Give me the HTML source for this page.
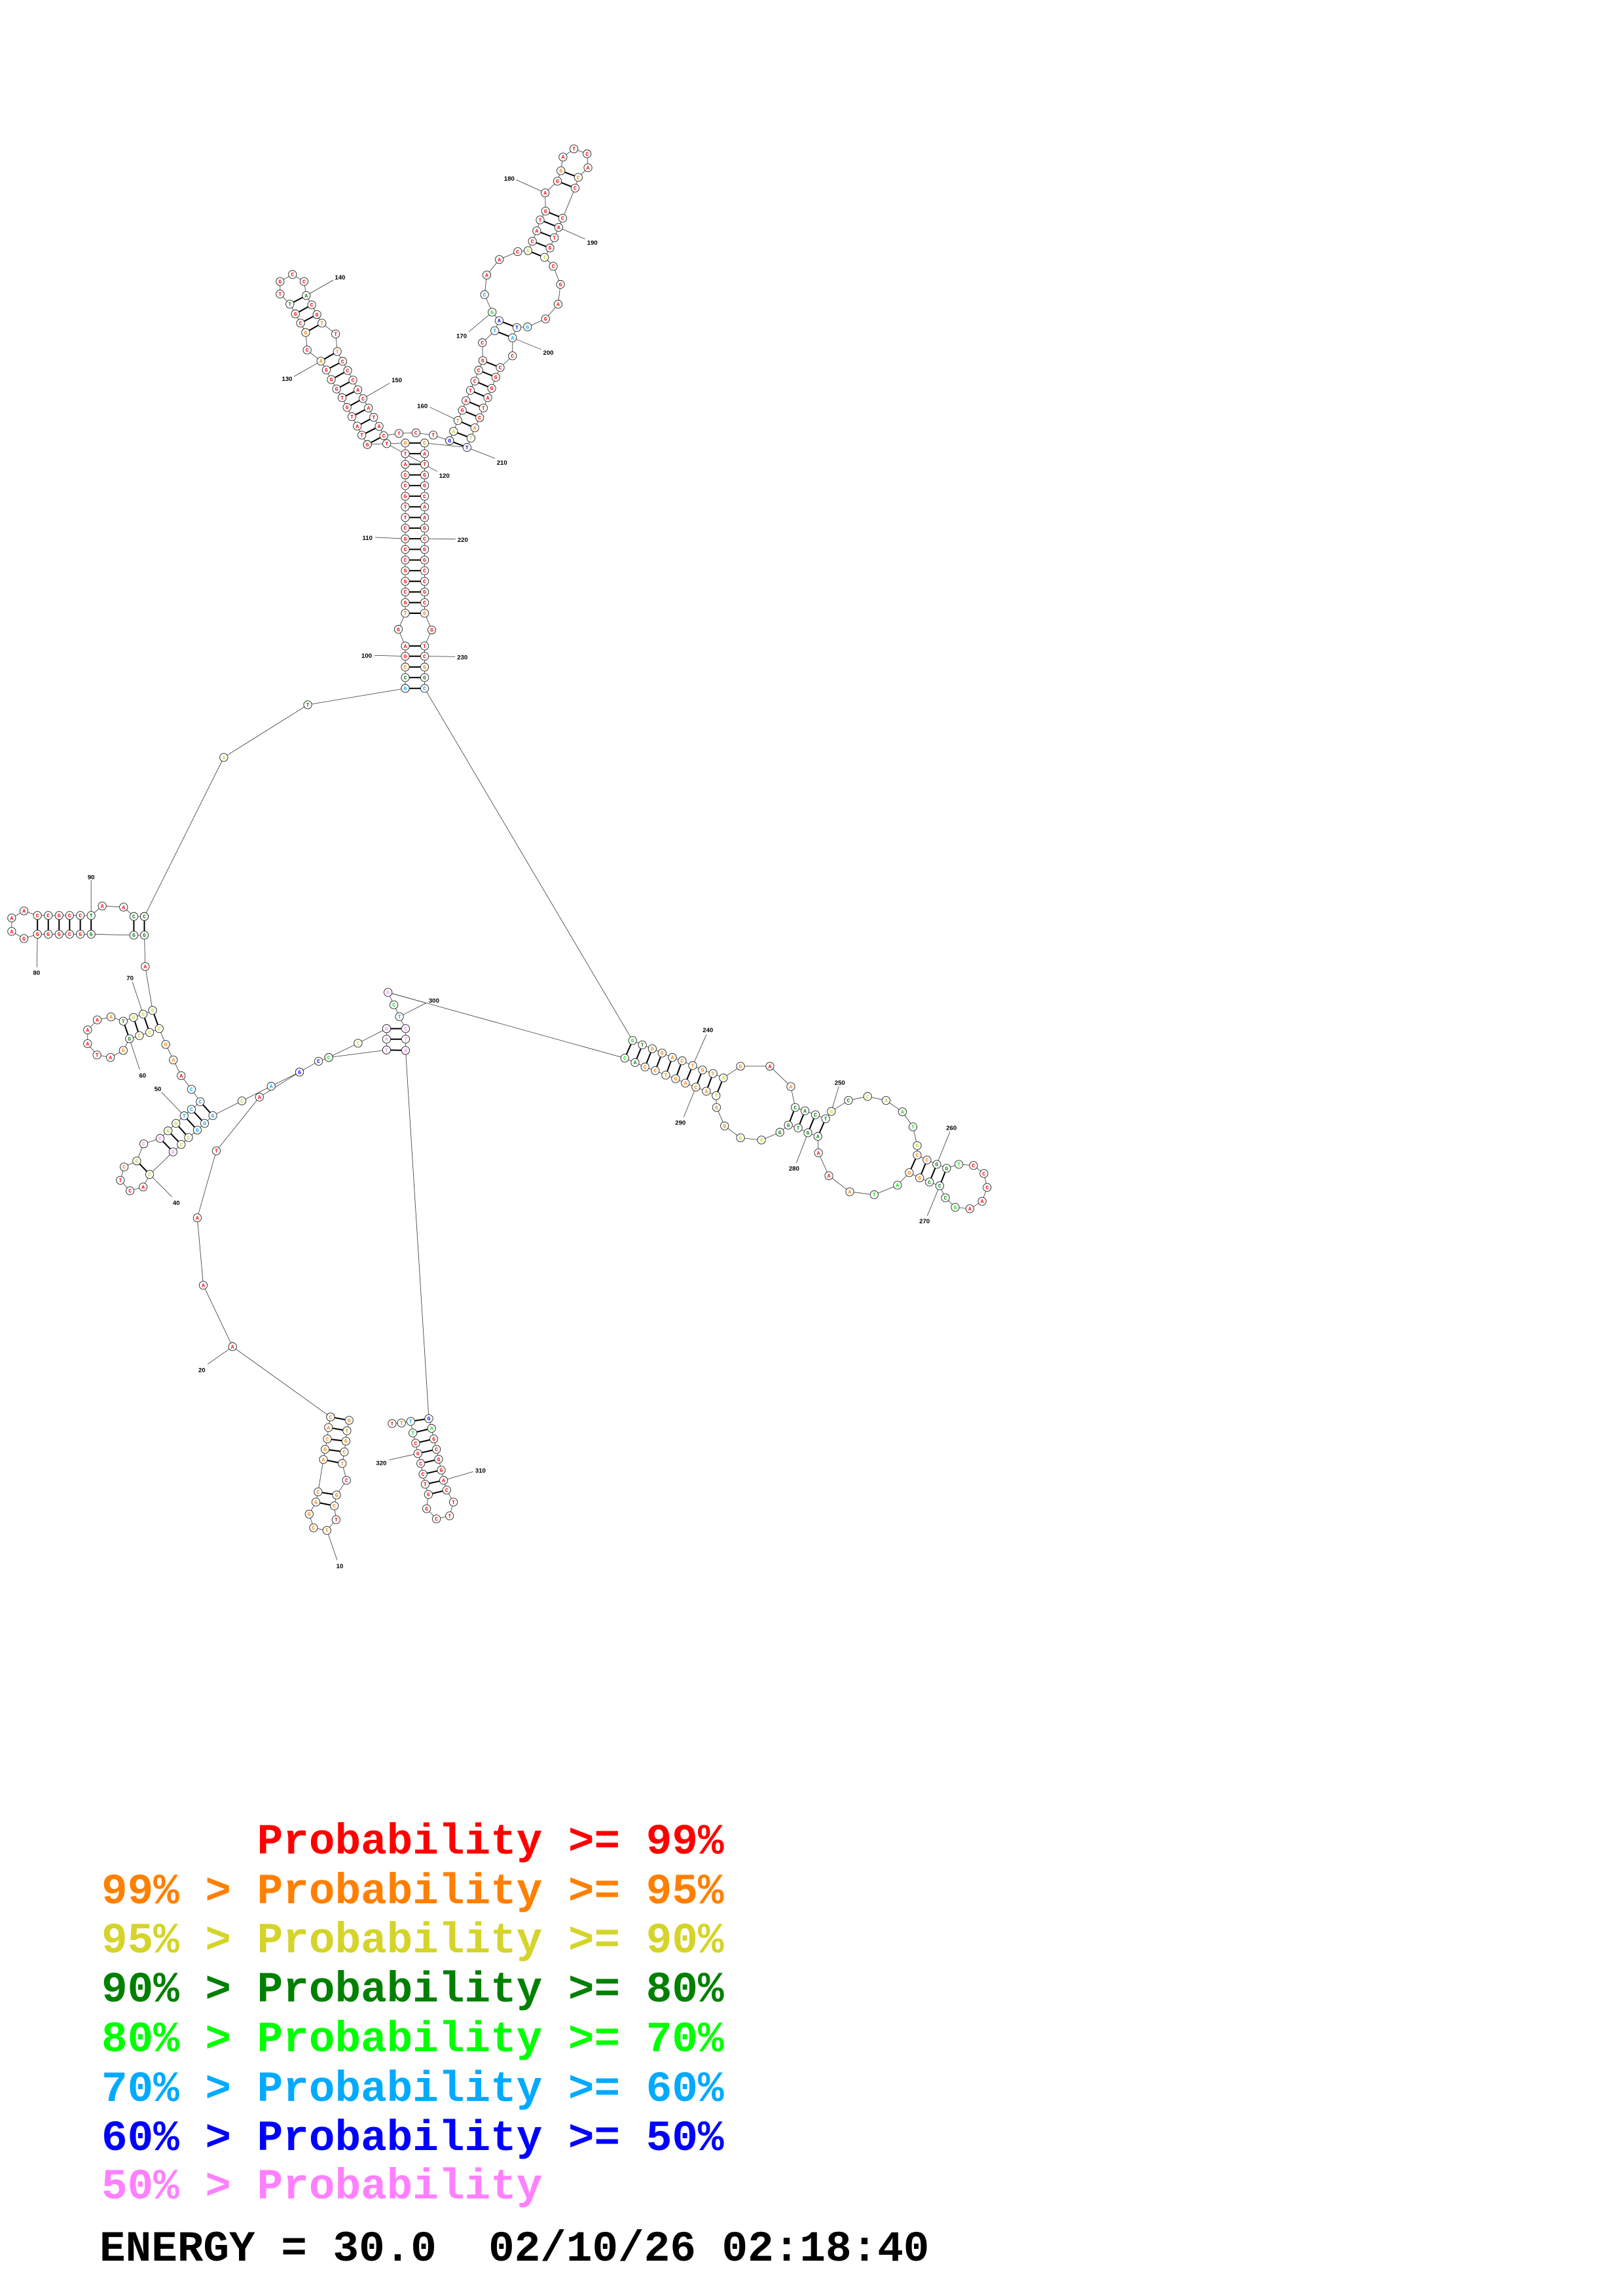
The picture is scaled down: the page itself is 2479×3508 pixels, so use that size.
<!DOCTYPE html>
<html><head><meta charset="utf-8"><style>
html,body{margin:0;padding:0;background:#fff;}
svg{display:block;}
.lg{font-family:"Liberation Mono",monospace;font-weight:bold;font-size:66px;white-space:pre;}
</style></head><body>
<svg id="s" xmlns="http://www.w3.org/2000/svg" width="2479" height="3508" viewBox="0 0 2479 3508">
<rect width="2479" height="3508" fill="#fff"/>
<g id="d" transform="scale(2.234)"></g>
<text class="lg" x="155" y="2832" fill="#ff0000">&#160;&#160;&#160;&#160;&#160;&#160;Probability &gt;= 99%</text>
<text class="lg" x="155" y="2908" fill="#ff8000">99% &gt; Probability &gt;= 95%</text>
<text class="lg" x="155" y="2983" fill="#d4d42a">95% &gt; Probability &gt;= 90%</text>
<text class="lg" x="155" y="3058" fill="#008000">90% &gt; Probability &gt;= 80%</text>
<text class="lg" x="155" y="3134" fill="#00ff00">80% &gt; Probability &gt;= 70%</text>
<text class="lg" x="155" y="3210" fill="#00aaff">70% &gt; Probability &gt;= 60%</text>
<text class="lg" x="155" y="3285" fill="#0000ff">60% &gt; Probability &gt;= 50%</text>
<text class="lg" x="155" y="3359" fill="#ff80ff">50% &gt; Probability</text>
<text class="lg" x="152" y="3454" fill="#000">ENERGY = 30.0&#160;&#160;02/10/26 02:18:40</text>
</svg>
<script>
(function(){
var R='#f00',O='#ff8000',Y='#d4d42a',DG='#080',LG='#0e0',LB='#0af',B='#00f',P='#f8f';
var g=document.getElementById('d');
var lines=[],pairs=[],nodes=[],labels=[];
function chain(a){for(var i=0;i<a.length;i++){nodes.push(a[i]);if(i)lines.push([a[i-1][0],a[i-1][1],a[i][0],a[i][1]]);}}
function ln(a,b,c,d){lines.push([a,b,c,d]);}
function pr(a,b,c,d){pairs.push([a,b,c,d]);}
function lab(t,x,y){labels.push([t,x,y]);}
var lx=277.1,rx=290.3,L1='GTACCGTTCGCCGGCGT',R1='CATGGCAAGCGGCCGCG';
var left=[],right=[];
var bl='AGCCG',br='TCGGC',bc=[R,R,O,DG,LB],by=[441.8,448.8,456.2,463.4,470.8];
for(var i=4;i>=0;i--){left.push([lx,by[i],bl[i],bc[i]]);right.push([rx,by[i],br[i],bc[i]]);pr(lx,by[i],rx,by[i]);}
left.push([272.4,430.4,'G',R]);right.push([295.2,430.8,'G',R]);
for(var i=16;i>=0;i--){var y=303+i*(419.4-303)/16;var c=(i==0||i==16)?O:R;left.push([lx,y,L1[i],c]);right.push([rx,y,R1[i],c]);pr(lx,y,rx,y);}
left.push([264.4,303.4,'T',R]);left.push([251.2,304,'G',R]);
chain(left);chain(right);
var la=[[251.2,304,'G',R],[247.4,297.6,'T',R],[244.3,291.4,'A',R],[240.6,285,'T',R],[237.3,278.6,'G',R],[233.9,272,'T',R],[230.1,266,'G',R],[226.5,259.6,'G',R],[223.1,253,'G',R],[219.4,247,'A',O],[210,239.4,'C',R],[209,227.4,'G',O],[205.5,221,'C',R],[202,214.7,'G',R],[198.2,208,'T',DG],[191.5,201.1,'T',R],[191.5,192.5,'G',R],[200,187.7,'C',R],[207.9,192.5,'C',R],[209.4,202.1,'A',DG],[213.1,208.5,'C',R],[216.7,215.1,'G',R],[220.1,221,'T',O],[229.5,228.4,'T',R],[230.6,240.4,'T',O],[234.3,247.1,'C',R],[237.7,253.4,'C',R],[241.3,260,'C',R],[244.7,266.6,'A',R],[248.2,272.6,'C',R],[251.9,279,'A',R],[255.5,285.4,'T',R],[259.2,291.6,'A',R],[262.4,298,'C',R],[272.8,296.4,'T',R],[284.4,296,'C',R],[296.2,297.6,'T',R],[307.4,301.4,'G',B]];
chain(la);
[[0,33],[1,32],[2,31],[3,30],[4,29],[5,28],[6,27],[7,26],[8,25],[9,24],[11,22],[12,21],[13,20],[14,19]].forEach(function(p){pr(la[p[0]][0],la[p[0]][1],la[p[1]][0],la[p[1]][1]);});
var ra=[[307.4,301.4,'G',B],[310.1,295,'A',Y],[313.1,287.6,'T',O],[316.1,280.6,'G',R],[318.6,274,'A',R],[321.6,267,'T',R],[324.6,260.6,'C',R],[327.3,253.2,'C',R],[330.1,246.6,'G',R],[329.8,234.4,'C',R],[338.3,226.2,'T',LB],[341.3,219.3,'A',B],[336.5,213.5,'G',LG],[331.3,201.5,'C',LB],[332.8,188.1,'A',R],[341.4,177.5,'A',R],[354,172.1,'C',R],[361,171.4,'A',Y],[364,165,'C',R],[367,157.9,'A',R],[369.3,150.4,'T',R],[373,144.4,'G',R],[372.7,131.9,'A',R],[381.2,123.9,'G',R],[383.5,116.8,'G',O],[384.9,107.4,'A',R],[392.4,101.8,'T',R],[401.4,105.2,'C',R],[402,114.7,'A',R],[395.4,121.3,'C',O],[393.2,128.6,'C',R],[384.7,149.2,'C',R],[382,155.5,'A',R],[379,162.6,'T',R],[376,169.6,'G',R],[372.3,176,'T',Y],[378.3,182.1,'C',R],[383.2,194.5,'G',R],[381.6,208.1,'A',R],[373,218.1,'G',R],[360.7,223.6,'G',LB],[353.4,224,'T',B],[350.4,231,'A',LB],[350.4,243.4,'C',R],[342,251.4,'C',R],[339,258,'G',R],[336.2,265.6,'G',R],[333.5,272,'A',R],[330.5,279,'T',R],[328,285.6,'C',R],[324.6,292.6,'A',O],[322,299.6,'T',Y],[319.3,306,'T',B]];
chain(ra);ln(290.3,303,319.3,306);
[[0,52],[1,51],[2,50],[3,49],[4,48],[5,47],[6,46],[7,45],[8,44],[10,42],[11,41],[17,35],[18,34],[19,33],[20,32],[21,31],[23,30],[24,29]].forEach(function(p){pr(ra[p[0]][0],ra[p[0]][1],ra[p[1]][0],ra[p[1]][1]);});
chain([[277.1,470.8,'G',LB],[210.4,482,'T',DG],[153,518,'A',Y],[98.7,626.8,'C',DG]]);
ln(290.3,470.8,432.5,711.6);
var tp=[62.3,54.9,47.6,40.4,33,25.6],tl='TCCGCC',bl2='GGCGGG';
var lh=[[98.7,626.8,'C',DG],[91.5,626.8,'C',DG],[84.5,620.4,'A',R],[69.9,619.6,'A',R]];
for(var i=0;i<6;i++)lh.push([tp[i],626.1,tl[i],i==0?DG:R]);
lh.push([16.4,623,'A',R],[8,627.8,'A',R],[8,637,'A',R],[16.4,641.9,'G',R]);
for(var i=5;i>=0;i--){lh.push([tp[i],638.9,bl2[i],i==0?DG:R]);pr(tp[i],626.1,tp[i],638.9);}
lh.push([91.5,639.6,'G',DG],[98.7,639.6,'G',DG],[99.3,661,'A',R],[104.3,691,'G',Y],[97.9,693.6,'G',Y],[91.3,695.8,'G',Y],[84.3,698.4,'T',DG],[75.9,695.5,'A',O],[66.5,697.5,'A',R],[59.9,704.4,'A',R],[59.9,713.8,'A',R],[66.3,721.5,'T',R],[75.5,723.2,'A',R],[84.3,718.4,'G',O],[88.5,710.4,'G',DG],[95.3,708.3,'C',Y],[102.3,706.1,'C',Y],[108.9,703.5,'C',Y],[113.3,714.3,'G',O],[118.5,724.9,'A',O],[123.9,735.7,'A',R],[130.9,745,'C',LB],[136.9,753.5,'C',LB],[130.9,758.7,'C',LB],[125.9,763.1,'T',LB],[120.3,768.3,'G',Y],[114.9,773.4,'G',Y],[109.5,778.6,'C',P],[98.3,782.3,'C',P],[93.5,794,'G',Y],[84.9,798.1,'C',O],[82.3,807.2,'T',R],[88.9,814.4,'C',R],[97.9,811.8,'A',R],[102.3,803.2,'C',Y],[118.3,787.8,'G',P],[123.9,782.7,'C',Y],[128.9,778,'C',Y],[134.9,772.9,'G',LB],[139.9,768.3,'G',LB],[145.5,763,'G',LB],[165.4,752.9,'C',Y],[185.4,742.9,'A',LB],[204.8,733.2,'G',B],[217.8,725.8,'C',B],[224.8,723.2,'C',LG],[264.3,718.1,'T',P]);
chain(lh);
pr(91.5,626.8,91.5,639.6);pr(98.7,626.8,98.7,639.6);
pr(104.3,691,108.9,703.5);pr(97.9,693.6,102.3,706.1);pr(91.3,695.8,95.3,708.3);pr(84.3,698.4,88.5,710.4);
pr(136.9,753.5,145.5,763);pr(130.9,758.7,139.9,768.3);pr(125.9,763.1,134.9,772.9);pr(120.3,768.3,128.9,778);pr(114.9,773.4,123.9,782.7);pr(109.5,778.6,118.3,787.8);pr(93.5,794,102.3,803.2);
chain([[226,969.1,'C',O],[159,921,'A',R],[139,879,'A',R],[134.9,832.9,'A',R],[147.9,787.1,'T',R],[177.4,750.3,'A',R],[204.8,733.2,'G',B]]);
chain([[224.8,723.2,'C',LG],[244.8,713.5,'T',Y],[264.3,703.5,'G',P]]);
chain([[264.3,718.1,'T',P],[264.3,710.7,'A',P],[264.3,703.5,'G',P]]);
chain([[265.3,678.7,'G',P],[269.3,687.2,'C',LG],[273.1,695.3,'T',LB],[277.3,703.5,'C',P],[277.3,710.7,'T',P],[277.3,718.4,'A',P]]);
pr(264.3,718.1,277.3,718.4);pr(264.3,710.7,277.3,710.7);pr(264.3,703.5,277.3,703.5);
ln(265.3,678.7,427.2,723.7);ln(277.3,718.4,293.2,970.2);
var bs=[[226,969.1,'C',O],[224.6,976.3,'A',O],[223.8,984.1,'C',O],[222.3,991.2,'G',O],[221.1,998.2,'A',O],[217.5,1020.3,'C',O],[216,1027.3,'G',O],[211.4,1035.5,'G',O],[214.4,1044.9,'C',O],[223.5,1046.7,'T',O],[229.8,1039.3,'T',R],[228.6,1029.9,'C',O],[230.1,1022.4,'G',O],[236.9,1012.4,'C',R],[234,1000.9,'T',O],[235.4,993,'C',O],[236.5,985.6,'G',O],[237.2,978.5,'T',O],[238.7,971.4,'G',O]];
chain(bs);
[[0,18],[1,17],[2,16],[3,15],[4,14],[5,12],[6,11]].forEach(function(p){pr(bs[p[0]][0],bs[p[0]][1],bs[p[1]][0],bs[p[1]][1]);});
var br2=[[268.1,973.6,'T',R],[274.5,973.2,'T',O],[280.8,972.1,'T',LB],[282.3,980,'T',LG],[284.2,987,'C',R],[285.7,994.1,'G',R],[287.7,1000.9,'C',R],[289.2,1008.2,'C',R],[290.7,1015.1,'T',R],[292.9,1022.1,'G',R],[291.7,1031.8,'G',R],[298.4,1038.8,'C',R],[307.4,1036.7,'T',R],[310,1027.3,'T',R],[305.4,1019.1,'C',R],[303.3,1012.4,'A',R],[301.7,1005.4,'G',R],[299.9,998,'G',R],[298.4,991.2,'C',R],[296.6,984.1,'G',R],[295.1,976.9,'A',LG],[293.2,970.2,'G',B]];
chain(br2);
[[2,21],[3,20],[4,19],[5,18],[6,17],[7,16],[8,15],[9,14]].forEach(function(p){pr(br2[p[0]][0],br2[p[0]][1],br2[p[1]][0],br2[p[1]][1]);});
var rr=[[432.5,711.6,'G',LG],[439.2,714.6,'T',DG],[446,717.2,'G',O],[452.7,720.2,'G',O],[459.7,723.2,'A',O],[466.4,725.5,'C',O],[473.6,728.8,'T',O],[480.3,731.8,'G',O],[487.5,734.2,'T',O],[494.6,737.2,'A',Y],[506.3,729.2,'G',O],[526.4,729.2,'A',R],[540.7,743.1,'A',O],[543.7,757.4,'C',DG],[550.4,759.7,'A',DG],[557.5,762.4,'C',DG],[564.5,765.1,'T',DG],[568.4,760.1,'G',Y],[580.1,752.6,'C',DG],[593.2,749.9,'C',Y],[605.8,752.6,'A',Y],[617,760.4,'A',LG],[624.2,770.7,'T',LG],[627.1,783.5,'G',Y],[627.1,790,'C',O],[633.8,793.3,'C',O],[640.5,796.3,'G',DG],[647.2,799,'G',DG],[655.6,796.3,'T',LG],[665.6,797.1,'C',R],[672.7,802.6,'C',R],[674.9,812.1,'C',R],[671.5,821.6,'A',R],[663.1,826.7,'A',R],[653.1,825.7,'G',LG],[646.4,819.2,'C',DG],[642.5,811,'C',DG],[635.5,808.4,'C',DG],[628.8,805.6,'G',O],[621.7,802,'G',O],[613.6,810.6,'A',LG],[597.7,817.1,'T',LG],[581,815.1,'A',O],[566.7,804.1,'A',R],[559.6,788.5,'A',R],[559.2,777.2,'A',DG],[552.4,774.7,'G',DG],[545.7,771.4,'T',DG],[539,769.5,'G',DG],[533.2,774.4,'G',DG],[520.6,779.7,'A',Y],[506.3,778.2,'G',Y],[495.4,770,'G',O],[489.9,757.4,'G',O],[489.6,749.3,'T',Y],[482.9,746.3,'A',O],[475.8,743.5,'C',O],[468.6,740.8,'A',O],[461.9,737.8,'G',O],[455.2,735.3,'T',O],[448,732.2,'C',O],[441,729.7,'C',O],[434.2,726.7,'A',DG],[427.2,723.7,'C',LG]];
chain(rr);
for(var i=0;i<10;i++){var a=rr[i],b=rr[rr.length-1-i];pr(a[0],a[1],b[0],b[1]);}
[[13,48],[14,47],[15,46],[16,45],[24,39],[25,38],[26,37],[27,36]].forEach(function(p){pr(rr[p[0]][0],rr[p[0]][1],rr[p[1]][0],rr[p[1]][1]);});
lab('140',232.5,189.7);ln(209.4,202.1,228,191.5);
lab('130',196.3,259);ln(219.4,247,201,257.5);
lab('150',271.3,260);ln(248.2,272.6,266.5,262);
lab('120',303.8,325.3);ln(264.4,303.4,299,322.5);
lab('110',251.2,367.9);ln(256.5,367.5,277.1,368.4);
lab('220',316.4,369.1);ln(290.3,368.4,311.5,368.7);
lab('100',250.7,448.4);ln(256,448.2,277.1,448.8);
lab('230',316.1,449.4);ln(290.3,448.8,311.2,449.1);
lab('160',288.8,277.6);ln(294,278.5,313.1,287.6);
lab('210',343.2,316.3);ln(319.3,306,338.5,313.5);
lab('170',315.6,229.6);ln(320.5,227,336.5,213.5);
lab('200',374.9,241.2);ln(350.4,231,370,239);
lab('180',348.2,122);ln(353,123,372.7,131.9);
lab('190',405,166);ln(382,155.5,400,163.5);
lab('90',62.3,599.9);ln(62.3,602,62.3,626.1);
lab('80',25,665.3);ln(25.6,638.9,25.2,661.5);
lab('70',88.9,668.9);ln(90.5,671.5,97.9,693.6);
lab('60',97.5,735.5);ln(88.5,710.4,95.5,731.5);
lab('50',107.9,744.6);ln(110.5,747,125.9,763.1);
lab('40',120.5,822.6);ln(102.3,803.2,117.5,818.5);
lab('300',296.7,684.2);ln(265.3,678.7,291.3,686);ln(273.1,695.3,291.3,686);
lab('20',138,937);ln(159,921,142,933);
lab('10',232.3,1071);ln(223.5,1046.7,230.5,1067);
lab('320',260.7,1000.5);ln(266,998.5,285.7,994.1);
lab('310',328.5,1005.7);ln(303.3,1012.4,323.5,1006.5);
lab('240',484,704.4);ln(473.6,728.8,483,707.5);
lab('290',465.2,767.7);ln(475.8,743.5,467.5,764);
lab('250',574.2,740.5);ln(568.4,760.1,573.5,743);
lab('280',542.9,799);ln(552.4,774.7,544.5,795.5);
lab('260',650.5,771.4);ln(640.5,796.3,649.5,774);
lab('270',632.1,835.2);ln(642.5,811,634,831.5);
var h='';
lines.forEach(function(l){h+='<line x1="'+l[0]+'" y1="'+l[1]+'" x2="'+l[2]+'" y2="'+l[3]+'" stroke="#333" stroke-width="0.35"/>';});
pairs.forEach(function(l){h+='<line x1="'+l[0]+'" y1="'+l[1]+'" x2="'+l[2]+'" y2="'+l[3]+'" stroke="#000" stroke-width="0.9"/>';});
nodes.forEach(function(n){h+='<circle cx="'+n[0]+'" cy="'+n[1]+'" r="2.75" fill="#fff" stroke="#222" stroke-width="0.4"/><text x="'+n[0]+'" y="'+(n[1]+1.25)+'" font-family="Liberation Mono,monospace" font-weight="bold" font-size="3.6" text-anchor="middle" fill="'+n[3]+'">'+n[2]+'</text>';});
labels.forEach(function(l){h+='<text x="'+l[1]+'" y="'+(l[2]+1.5)+'" font-family="Liberation Sans,sans-serif" font-weight="bold" font-size="4.3" text-anchor="middle" fill="#000">'+l[0]+'</text>';});
g.innerHTML=h;
})();
</script>
</body></html>
